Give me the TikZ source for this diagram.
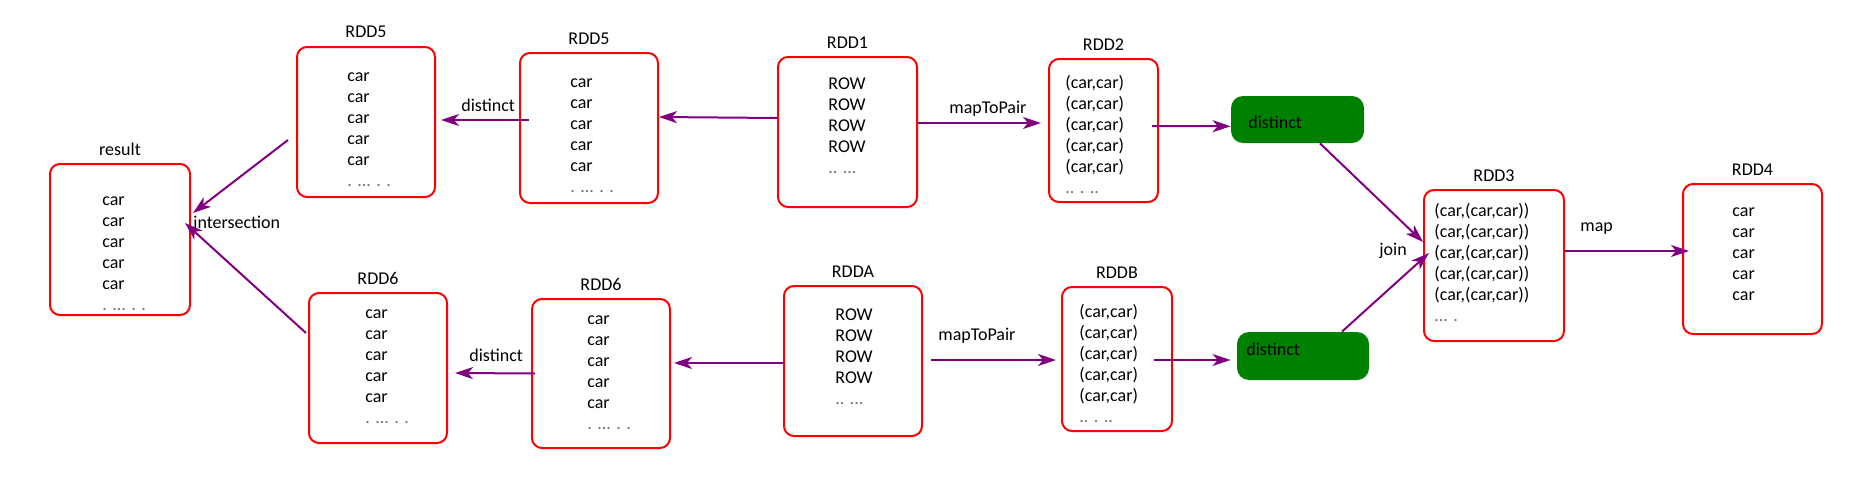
\documentclass[tikz,border=0pt]{standalone}
\usepackage{fontspec}
\setmainfont{Carlito}
\usetikzlibrary{arrows.meta}
\definecolor{boxred}{RGB}{255,0,0}
\definecolor{arrpurple}{RGB}{128,0,128}
\definecolor{opgreen}{RGB}{0,128,0}
\definecolor{dotgray}{RGB}{110,110,110}
\newcommand{\fl}{\rule{0pt}{7pt}}
\newcommand{\dts}[1]{\textcolor{dotgray}{#1}}
\begin{document}
\begin{tikzpicture}[x=0.5pt,y=-0.5pt,
  font=\fontsize{9}{10.5}\selectfont,
  rddbox/.style={draw=boxred, line width=1pt, rounded corners=5pt, inner sep=0pt},
  opbox/.style={fill=opgreen, rounded corners=6pt, inner sep=0pt, minimum width=66.5pt},
  title/.style={anchor=base, inner sep=0pt},
  content/.style={anchor=north west, align=left, inner sep=0pt},
  lbl/.style={anchor=base west, inner sep=0pt},
  arr/.style={draw=arrpurple, line width=1pt, -{Stealth[length=9pt,width=6pt,inset=2.5pt]}},
]
\useasboundingbox (0,0) rectangle (1865,487);

% boxes
\node[rddbox, minimum width=70pt, minimum height=75.5pt] (result) at (120,239.5) {};
\node[rddbox, minimum width=69pt, minimum height=75pt] (r5l) at (366,122) {};
\node[rddbox, minimum width=69pt, minimum height=75pt] (r5r) at (589,128) {};
\node[rddbox, minimum width=69.5pt, minimum height=75pt] (r1) at (847.5,132) {};
\node[rddbox, minimum width=54.5pt, minimum height=71.5pt] (r2) at (1103.5,130.5) {};
\node[rddbox, minimum width=69pt, minimum height=75pt] (r6l) at (378,368) {};
\node[rddbox, minimum width=69pt, minimum height=74.5pt] (r6r) at (601,373.5) {};
\node[rddbox, minimum width=69pt, minimum height=75pt] (ra) at (853,361) {};
\node[rddbox, minimum width=55pt, minimum height=72pt] (rb) at (1117,359) {};
\node[rddbox, minimum width=70pt, minimum height=75.5pt] (r3) at (1494,265.5) {};
\node[rddbox, minimum width=69.5pt, minimum height=75pt] (r4) at (1752.5,259) {};
\node[opbox, minimum height=23.5pt] (g1) at (1297.5,119.5) {};
\node[opbox, minimum width=66pt, minimum height=24pt] (g2) at (1303,356) {};

% titles
\node[title] (tres) at ([yshift=4pt]result.north) {result};
\node[title] (t5l) at ([yshift=4pt]r5l.north) {RDD5};
\node[title] (t5r) at ([yshift=4pt]r5r.north) {RDD5};
\node[title] (t1) at ([yshift=4pt]r1.north) {RDD1};
\node[title] (t2) at ([yshift=4pt]r2.north) {RDD2};
\node[title] (t6l) at ([yshift=4pt]r6l.north) {RDD6};
\node[title] (t6r) at ([yshift=4pt]r6r.north) {RDD6};
\node[title] (ta) at ([yshift=4pt]ra.north) {RDDA};
\node[title] (tb) at ([yshift=4pt]rb.north) {RDDB};
\node[title] (t3) at ([yshift=4pt]r3.north) {RDD3};
\node[title] (t4) at ([yshift=4pt]r4.north) {RDD4};

% contents
\node[content] (cres) at (102,191.5) {\fl car\\car\\car\\car\\car\\\dts{. ... . .}};
\node[content] (c5l) at (347,67.5) {\fl car\\car\\car\\car\\car\\\dts{. ... . .}};
\node[content] (c5r) at (570,73.5) {\fl car\\car\\car\\car\\car\\\dts{. ... . .}};
\node[content] (c6l) at (365,304.5) {\fl car\\car\\car\\car\\car\\\dts{. ... . .}};
\node[content] (c6r) at (587,310.5) {\fl car\\car\\car\\car\\car\\\dts{. ... . .}};
\node[content] (c1) at (828,75) {\fl ROW\\ROW\\ROW\\ROW\\\dts{.. ...}};
\node[content] (ca) at (835,306) {\fl ROW\\ROW\\ROW\\ROW\\\dts{.. ...}};
\node[content] (c2) at (1065,74.5) {\fl (car,car)\\(car,car)\\(car,car)\\(car,car)\\(car,car)\\\dts{.. . ..}};
\node[content] (cb) at (1079,303.5) {\fl (car,car)\\(car,car)\\(car,car)\\(car,car)\\(car,car)\\\dts{.. . ..}};
\node[content] (c3) at (1434,202.5) {\fl (car,(car,car))\\(car,(car,car))\\(car,(car,car))\\(car,(car,car))\\(car,(car,car))\\\dts{... .}};
\node[content] (c4) at (1732,202) {\fl car\\car\\car\\car\\car};

% operation boxes text
\node[lbl] (d1) at (1248,128) {distinct};
\node[lbl] (d2) at (1246,355) {distinct};

% arrows
\draw[arr] ([yshift=7pt]r1.west) -- ([yshift=5.5pt]r5r.east);
\draw[arr] ([xshift=5pt,yshift=4pt]r5r.west) -- ([xshift=2.5pt,yshift=1pt]r5l.east);
\draw[arr] ([xshift=-4pt,yshift=-9pt]r5l.west) -- ([xshift=1pt,yshift=13.25pt]result.east);
\draw[arr] ([xshift=-1pt,yshift=17.5pt]r6l.west) -- ([xshift=-3pt,yshift=8.25pt]result.east);
\draw[arr] ([xshift=2pt]r6r.west) -- ([xshift=3.5pt,yshift=-2.5pt]r6l.east);
\draw[arr] ([yshift=-1pt]ra.west) -- ([xshift=1.5pt,yshift=5.25pt]r6r.east);
\draw[arr] ([yshift=4.5pt]r1.east) -- ([xshift=-3.5pt,yshift=3.75pt]r2.west);
\draw[arr] ([xshift=4pt,yshift=0.5pt]ra.east) -- ([xshift=-2.5pt,yshift=-0.5pt]rb.west);
\draw[arr] ([xshift=-3.5pt,yshift=2.25pt]r2.east) -- ([yshift=-3.4pt]g1.west);
\draw[arr] ([xshift=-9.5pt,yshift=-0.5pt]rb.east) -- ([xshift=-3pt,yshift=-2pt]g2.west);
\draw[arr] ([xshift=11.25pt]g1.south) -- ([yshift=11.75pt]r3.west);
\draw[arr] ([xshift=19.5pt]g2.north) -- ([xshift=3pt,yshift=6.25pt]r3.west);
\draw[arr] ([yshift=7.25pt]r3.east) -- ([xshift=3.5pt,yshift=4pt]r4.west);

% edge labels
\node[lbl] (ld1) at (461,111) {distinct};
\node[lbl] (ld2) at (469,361) {distinct};
\node[lbl] (li) at (193,228) {intersection};
\node[lbl] (lm1) at (949,113) {mapToPair};
\node[lbl] (lm2) at (938,340) {mapToPair};
\node[lbl] (lj) at (1379,255) {join};
\node[lbl] (lmap) at (1580,231) {map};
\end{tikzpicture}
\end{document}
